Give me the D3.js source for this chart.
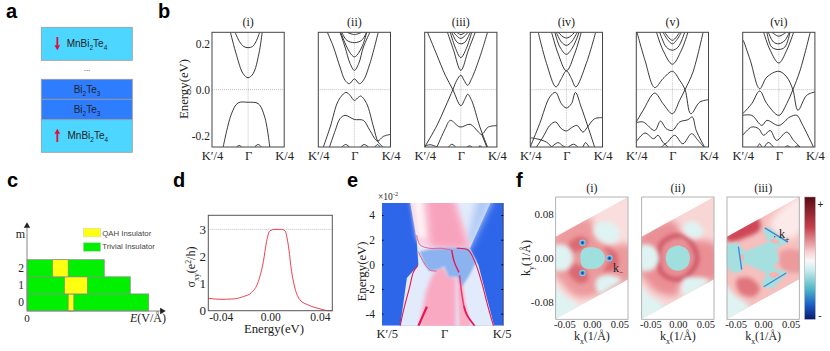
<!DOCTYPE html>
<html>
<head>
<meta charset="utf-8">
<script src="https://cdn.jsdelivr.net/npm/d3@7/dist/d3.min.js"></script>
<style>
  body { margin: 0; background: #fff; }
  svg { display: block; }
  text { font-family: "Liberation Serif", serif; fill: #222; }
  .sans { font-family: "Liberation Sans", sans-serif; }
  .letter { font-family: "Liberation Sans", sans-serif; font-weight: bold; font-size: 20px; fill: #000; }
</style>
</head>
<body>
<svg id="chart" width="830" height="351"></svg>
<script>
// panel b, one list of bands per sub panel, each point is [k, energy in eV]
const bandsI = [
  [[-.49,.25],[-.32,.15],[-.14,.07],[0,.052],[.14,.07],[.30,.157],[.39,.25]],
  [[-.36,.25],[-.24,.21],[-.12,.188],[0,.183],[.12,.188],[.22,.21],[.32,.25]],
  [[-.69,-.25],[-.46,-.105],[-.28,-.058],[0,-.055],[.28,-.061],[.46,-.119],[.6,-.25]],
  [[-.32,-.25],[-.25,-.243],[-.18,-.25]],
  [[.18,-.25],[.28,-.239],[.37,-.25]]
];
const bandsII = [
  [[-.75,.25],[-.58,.186],[-.40,.099],[-.26,.041],[-.14,.026],[0,.047],[.14,.026],[.25,.041],[.43,.114],[.66,.25]],
  [[-.40,.25],[-.26,.186],[-.12,.114],[0,.084],[.12,.114],[.25,.186],[.43,.25]],
  [[-.38,.25],[-.21,.186],[-.07,.15],[0,.143],[.07,.15],[.23,.194],[.34,.25]],
  [[-.35,.25],[-.21,.215],[0,.205],[.2,.215],[.34,.25]],
  [[-.2,.25],[0,.24],[.2,.25]],
  [[-.86,-.25],[-.67,-.163],[-.44,-.047],[-.23,-.012],[-.12,-.025],[0,-.047],[.12,-.032],[.18,-.028],[.34,-.061],[.53,-.163],[.66,-.229],[.8,-.25]],
  [[-.69,-.25],[-.53,-.178],[-.4,-.127],[-.26,-.112],[0,-.13],[.25,-.134],[.43,-.178],[.64,-.224],[.8,-.204],[1,-.195]],
  [[-.35,-.25],[-.24,-.239],[-.14,-.25]],
  [[.17,-.25],[.27,-.239],[.39,-.25]],
  [[.57,-.25],[.64,-.239],[.71,-.25]]
];
const bandsIII = [
  [[-.92,.25],[-.66,.15],[-.43,.063],[-.22,0],[0,-.07],[.12,-.039],[.19,-.02],[.3,-.047],[.53,-.163],[.74,-.25]],
  [[-1,-.25],[-.66,-.156],[-.43,-.076],[-.22,0],[-.11,.041],[0,.063],[.09,.041],[.19,.019],[.3,.048],[.53,.143],[.74,.25]],
  [[-.37,.25],[-.2,.172],[0,.084],[.21,.172],[.4,.25]],
  [[-.29,.25],[-.16,.186],[0,.14],[.17,.186],[.3,.25]],
  [[-.25,.25],[-.11,.208],[0,.2],[.12,.208],[.26,.25]],
  [[-.2,.25],[0,.223],[.2,.25]],
  [[-.11,.25],[0,.24],[.12,.25]],
  [[-1,-.246],[-.85,-.24],[-.66,-.25]],
  [[-.66,-.25],[-.43,-.17],[-.29,-.134],[-.02,-.163],[.26,-.151],[.49,-.185],[.58,-.195],[.76,-.163],[1,-.157]],
  [[-.34,-.25],[-.25,-.238],[-.14,-.25]],
  [[.17,-.25],[.24,-.245],[.31,-.25]],
  [[.49,-.25],[.53,-.245],[.58,-.25]],
  [[.58,-.195],[.72,-.25]]
];
const bandsIV = [
  [[-.78,.25],[-.55,.114],[-.29,.012],[-.14,.048],[0,.082],[.14,.048],[.26,.012],[.55,.114],[.81,.25]],
  [[-.41,.25],[-.23,.157],[0,.082],[.23,.157],[.41,.25]],
  [[-.32,.25],[-.18,.186],[0,.154],[.18,.186],[.35,.25]],
  [[-.28,.25],[-.14,.208],[0,.193],[.14,.208],[.3,.25]],
  [[-.23,.25],[-.09,.23],[0,.225],[.09,.23],[.23,.25]],
  [[-1,-.25],[-.74,-.148],[-.46,-.032],[-.3,-.012],[-.14,-.061],[0,-.08],[.14,-.061],[.25,-.012],[.41,-.076],[.6,-.163],[.78,-.25]],
  [[-.83,-.25],[-.65,-.207],[-.46,-.156],[-.3,-.141],[-.14,-.17],[0,-.18],[.14,-.166],[.29,-.156],[.46,-.185],[.57,-.166],[.78,-.127],[1,-.122]],
  [[-1,-.21],[-.83,-.214],[-.55,-.229],[-.41,-.25]],
  [[-.41,-.25],[-.23,-.231],[-.1,-.245],[-.03,-.25]],
  [[.05,-.25],[.2,-.238],[.32,-.25]],
  [[.46,-.25],[.53,-.231],[.63,-.25]]
];
const bandsV = [
  [[-.98,.25],[-.76,.128],[-.49,.009],[-.26,.048],[0,.08],[.2,.041],[.35,0],[.51,-.105],[.76,-.054],[1,-.044]],
  [[-1,-.141],[-.81,-.09],[-.49,-.015],[-.26,-.061],[0,-.105],[.2,-.047],[.35,0],[.57,.077],[.85,.25]],
  [[-.44,.25],[-.26,.172],[0,.111],[.25,.172],[.43,.25]],
  [[-.35,.25],[-.17,.186],[0,.172],[.16,.186],[.34,.25]],
  [[-.26,.25],[-.12,.215],[0,.2],[.11,.215],[.25,.25]],
  [[-.21,.25],[0,.215],[.2,.25]],
  [[-1,-.144],[-.81,-.141],[-.49,-.178],[-.33,-.137],[-.17,-.17],[0,-.178],[.2,-.141],[.43,-.131],[.55,-.119],[.66,-.178],[.89,-.25]],
  [[-1,-.227],[-.76,-.189],[-.52,-.214],[-.4,-.199],[-.21,-.236],[.06,-.199],[.29,-.236],[.53,-.192],[.71,-.221],[.87,-.25]],
  [[-.3,-.25],[-.21,-.239],[-.12,-.25]]
];
const bandsVI = [
  [[-.98,.215],[-.79,.128],[-.53,.004],[-.33,.055],[0,.08],[.22,.055],[.39,0],[.53,-.09],[.77,-.025],[1,-.01]],
  [[-1,-.105],[-.75,-.061],[-.53,-.006],[-.33,-.061],[0,-.112],[.22,-.061],[.39,0],[.59,.084],[.87,.25]],
  [[-.42,.25],[-.24,.172],[0,.116],[.22,.172],[.41,.25]],
  [[-.33,.25],[-.2,.186],[0,.175],[.17,.186],[.31,.25]],
  [[-.29,.25],[-.15,.208],[0,.2],[.17,.215],[.29,.25]],
  [[-.19,.25],[0,.233],[.2,.25]],
  [[-1,-.112],[-.75,-.112],[-.47,-.156],[-.33,-.134],[0,-.156],[.31,-.119],[.5,-.112],[.64,-.148],[.96,-.25]],
  [[-1,-.199],[-.75,-.163],[-.56,-.17],[-.42,-.199],[-.24,-.178],[-.06,-.221],[.22,-.185],[.41,-.221],[.59,-.25]],
  [[-.59,-.25],[-.53,-.236],[-.47,-.25]],
  [[-.4,-.25],[-.29,-.23],[-.15,-.25]],
  [[.18,-.25],[.24,-.245],[.31,-.25]],
  [[.45,-.25],[.52,-.245],[.59,-.25]]
];
const bandPanels = [bandsI, bandsII, bandsIII, bandsIV, bandsV, bandsVI];
const bandTitles = ['(i)', '(ii)', '(iii)', '(iv)', '(v)', '(vi)'];
const bandLeft = [212, 318.3, 424.7, 530.3, 636.3, 742.7];

// panel c, layer number, end of the row, QAH window (E in arbitrary units)
const layers = [0, 1, 2];
const rowEnd = [88.4, 75, 56.1];
const qahStart = [29.9, 27.2, 18.6];
const qahEnd = [34, 43.8, 29.9];

// panel d
const sigmaE = [-.05,-.0406,-.0298,-.0218,-.0151,-.0097,-.0056,-.003,-.0003,.0038,.0091,.0118,.0145,.0172,.0199,.0239,.0306,.04,.0468,.05];
const sigmaV = [.46,.42,.435,.52,.67,1.07,1.81,2.55,2.95,3,3,2.95,2.42,1.44,.83,.4,.21,.07,0,0];

// panel e, spectral function regions, [k, energy in 10^-2 eV]
const edgeInner = [[-.57,6],[-.43,2.1],[-.4,-.05],[-.59,-1.1],[-.7,-5],[-.74,-6],[.88,-6],[.85,-5],[.73,-2.75],[.59,-.05],[.45,1.3],[.88,6]];
const edgeUpperRight = [[.6,6],[.9,6],[.45,1.3],[.38,1.5]];
const pinkTopPale = [[-.57,6.5],[.12,6.5],[.45,1.3],[-.35,1.5],[-.43,2.1]];
const pinkTopStrong = [[-.28,6.5],[.1,6.5],[.43,1.3],[0,1.3],[-.2,1.4]];
const whiteWedge = [[-.4,2.2],[-.48,5.2],[-.34,5.2],[-.28,2.2]];
const blueBlob = [[-.38,1.05],[-.18,1.25],[.12,1.35],[.44,1.3],[.56,.25],[.44,-.9],[.32,-1.8],[.24,-1],[.1,-1],[.03,-.15],[-.1,-.45],[-.22,-.55],[-.32,.2]];
const pinkLowLeft = [[-.1,-.3],[.03,-.2],[.1,-.9],[.22,-1],[.22,-6],[-.42,-6],[-.28,-2.3],[-.2,-1.2]];
const pinkLowRight = [[.24,-1],[.33,-1.5],[.37,-3],[.48,-5.2],[.5,-6],[.28,-6]];
const lineLeft = [[-.7,-5],[-.65,-3.84],[-.55,-1.95],[-.48,-.6],[-.41,-.1]];
const lineRight = [[.23,1.3],[.42,1.16],[.53,.22],[.64,-1.4],[.74,-3.3],[.84,-5]];
const lineUpper = [[-.43,2.38],[-.37,1.57],[-.21,1.3],[-.02,1.3],[.15,1.16]];
const lineMiddle = [[.15,1.16],[.19,.22],[.27,-.65]];
const lineLowRightA = [[.28,-.9],[.31,-2.2],[.35,-3.4]];
const lineLowRightB = [[.35,-3.4],[.4,-4.1],[.53,-5]];
const lineLower = [[-.4,1.03],[-.32,.22],[-.21,-.46],[-.1,-.54]];
const lineHeavyL = [[-.4,-5],[-.32,-4.1],[-.26,-3.43]];

// panel f, Berry curvature regions, [kx, ky]
const zoneEdge = [[-.066,.039],[.0655,.1115],[.0655,-.039],[-.066,-.111]];
const corner = [[-.07,-.048],[-.07,-.115],[-.025,-.088],[-.052,-.067]];
const leftBlob = [[-.07,.022],[-.046,.022],[-.034,0],[-.046,-.021],[-.07,-.021]];

const f1Pink = [[-.07,.039],[-.004,.073],[.008,.04],[.033,.024],[.07,.024],[.07,-.039],[.012,-.067],[-.028,-.07],[-.058,-.042],[-.07,-.024]];
const f1DarkA = [[-.043,.024],[-.025,.039],[-.007,.033],[-.013,.019],[-.031,.011]];
const f1DarkB = [[-.043,-.024],[-.025,-.045],[-.007,-.04],[-.013,-.019],[-.031,-.011]];
const f1DarkC = [[.021,.021],[.045,.009],[.045,-.018],[.021,-.024],[.033,0]];
const f1Hex = [[-.015,.017],[.013,.017],[.024,0],[.013,-.017],[-.015,-.017],[-.021,0]];
const f1PaleUp = [[.005,.058],[.024,.067],[.048,.055],[.048,.033],[.027,.027],[.008,.039]];
const f1PaleDown = [[.008,-.039],[.03,-.03],[.054,-.039],[.033,-.055],[.012,-.064]];
const f1Dots = [[-.017,.028],[.032,0],[-.017,-.027]];

const f2Pink = [[-.07,.039],[-.008,.067],[.01,.036],[.04,.033],[.07,.024],[.07,-.039],[.035,-.042],[.005,-.045],[-.002,-.067],[-.038,-.061],[-.062,-.036],[-.07,-.024]];
const f2Ring = [[-.035,0],[-.029,.027],[-.002,.041],[.022,.03],[.035,0],[.022,-.027],[-.002,-.039],[-.029,-.027]];
const f2Center = [[.022,0],[.016,.016],[0,.023],[-.016,.016],[-.022,0],[-.016,-.016],[0,-.023],[.016,-.016]];
const f2PaleUp = [[.01,.058],[.028,.068],[.047,.048],[.035,.036],[.016,.042]];
const f2PaleDown = [[.01,-.039],[.035,-.035],[.056,-.039],[.028,-.064],[.01,-.067]];

const f3PaleTop = [[.012,.06],[.07,.115],[.07,.05],[.045,.035]];
const f3DarkTop = [[-.07,.037],[-.009,.072],[-.006,.052],[-.036,.036],[-.058,.03]];
const f3DarkLow = [[-.048,-.039],[-.024,-.036],[-.006,-.055],[-.018,-.07],[-.042,-.064]];
const f3Right = [[.033,.012],[.07,.012],[.07,-.024],[.042,-.024],[.03,-.012]];
const f3Center = [[-.07,.024],[-.048,.029],[-.033,.012],[.009,.029],[-.001,.055],[.012,.055],[.045,.029],[.024,.018],[.029,-.003],[.018,-.018],[.045,-.025],[.018,-.055],[-.003,-.052],[.006,-.027],[-.036,-.009],[-.039,-.024],[-.055,-.027],[-.07,-.012]];
const f3Pockets = [
  [[.012,.032],[.02,.027],[.03,.027],[.022,.035]],
  [[-.042,.001],[-.038,.008],[-.034,.001],[-.038,-.006]],
  [[.01,-.03],[.02,-.025],[.03,-.03],[.02,-.036]]
];
const f3Streaks = [
  [[.003,.055],[.045,.029]],
  [[-.045,.021],[-.039,-.021]],
  [[.001,-.052],[.042,-.027]]
];

const colorbarStops = [0, .25, .45, .52, .6, .75, .88, 1];
const colorbarColors = ['#5a0a14', '#c8404a', '#f8d0d0', '#f8f8f8', '#c8ecec', '#50b8c8', '#1a60c8', '#0a1a70'];

const svg = d3.select('#chart');
const defs = svg.append('defs');

const addBlur = function(id, amount) {
  defs.append('filter').attr('id', id)
    .attr('filterUnits', 'userSpaceOnUse')
    .attr('x', 0).attr('y', 0).attr('width', 830).attr('height', 351)
    .append('feGaussianBlur').attr('stdDeviation', amount);
};
addBlur('blur1', 1);
addBlur('blur2', 2);
addBlur('blur3', 3.5);
addBlur('blurLine', .45);

// text with sub and superscript pieces: [string, 'sub' | 'sup' | 'it' | undefined]
const richText = function(parent, x, y, parts, size, anchor, rotate) {
  const t = parent.append('text')
    .attr('font-size', size)
    .attr('text-anchor', anchor || 'start');
  if (rotate) t.attr('transform', `translate(${x},${y}) rotate(-90)`);
  else t.attr('x', x).attr('y', y);
  let shift = 0;
  parts.forEach(([s, kind]) => {
    const span = t.append('tspan').text(s);
    const target = kind === 'sub' ? size * .3 : kind === 'sup' ? -size * .35 : 0;
    span.attr('dy', target - shift);
    shift = target;
    if (kind === 'sub' || kind === 'sup') span.attr('font-size', size * .65);
    if (kind === 'it') span.attr('font-style', 'italic');
  });
  return t;
};

const cleanAxis = function(g, size) {
  g.attr('font-family', null).attr('font-size', size);
  g.select('.domain').remove();
  g.selectAll('text').attr('fill', '#222');
};

const letters = [['a', 6, 18], ['b', 158, 18], ['c', 7, 186.7], ['d', 173, 186.7], ['e', 347, 186.7], ['f', 516, 186.7]];
svg.selectAll('.letter').data(letters).join('text')
  .attr('class', 'letter')
  .attr('x', d => d[1]).attr('y', d => d[2]).text(d => d[0]);

/* panel a */
const drawStack = function() {
  const g = svg.append('g');
  const boxes = [
    [27.3, 60.3, '#4dd6ff'], [79.3, 99.3, '#2f7dff'], [99.3, 119.7, '#2f7dff'], [119.7, 152.3, '#4dd6ff']
  ];
  boxes.forEach(b => {
    g.append('rect').attr('x', 41.3).attr('y', b[0])
      .attr('width', 91).attr('height', b[1] - b[0])
      .attr('fill', b[2]).attr('stroke', '#9a9a9a').attr('stroke-width', .8);
  });
  const label = (x, y, parts, anchor) =>
    richText(g, x, y, parts, 10, anchor).attr('class', 'sans');
  label(66.7, 47, [['MnBi'], ['2', 'sub'], ['Te'], ['4', 'sub']]);
  label(67.5, 139, [['MnBi'], ['2', 'sub'], ['Te'], ['4', 'sub']]);
  label(87, 92.7, [['Bi'], ['2', 'sub'], ['Te'], ['3', 'sub']], 'middle');
  label(87, 113, [['Bi'], ['2', 'sub'], ['Te'], ['3', 'sub']], 'middle');
  g.append('text').attr('class', 'sans').attr('x', 87).attr('y', 71)
    .attr('text-anchor', 'middle').attr('font-size', 8).text('...');
  // spin arrows, [shaft start, shaft end, head rotation]
  [[37, 47, 180], [142, 132, 0]].forEach(a => {
    g.append('line').attr('x1', 57.3).attr('x2', 57.3).attr('y1', a[0]).attr('y2', a[1])
      .attr('stroke', '#e0103c').attr('stroke-width', 1.8);
    g.append('path').attr('d', d3.symbol().type(d3.symbolTriangle).size(14))
      .attr('transform', `translate(57.3,${a[1]}) rotate(${a[2]})`).attr('fill', '#e0103c');
  });
};

/* panel b */
const drawBands = function() {
  const panelWidth = 72.2, top = 32.3, bottom = 147;
  bandPanels.forEach((bands, i) => {
    const x = d3.scaleLinear().domain([-1, 1]).range([bandLeft[i], bandLeft[i] + panelWidth]);
    const y = d3.scaleLinear().domain([-.25, .25]).range([bottom, top]);
    const line = d3.line().x(d => x(d[0])).y(d => y(d[1])).curve(d3.curveCatmullRom.alpha(.5));
    const g = svg.append('g').attr('class', 'bands');
    defs.append('clipPath').attr('id', `band${i}`).append('rect')
      .attr('x', x(-1)).attr('y', top).attr('width', panelWidth).attr('height', bottom - top);
    const dots = g.append('g').attr('stroke', '#999').attr('stroke-width', .6).attr('stroke-dasharray', '1,1');
    dots.append('line').attr('x1', x(-1)).attr('x2', x(1)).attr('y1', y(0)).attr('y2', y(0));
    dots.append('line').attr('x1', x(0)).attr('x2', x(0)).attr('y1', top).attr('y2', bottom);
    g.append('g').attr('clip-path', `url(#band${i})`)
      .selectAll('path').data(bands).join('path')
      .attr('d', line).attr('fill', 'none').attr('stroke', '#222').attr('stroke-width', .9);
    g.append('rect').attr('x', x(-1)).attr('y', top).attr('width', panelWidth).attr('height', bottom - top)
      .attr('fill', 'none').attr('stroke', '#444').attr('stroke-width', 1);
    g.append('text').attr('x', x(0)).attr('y', 26).attr('text-anchor', 'middle')
      .attr('font-size', 12).text(bandTitles[i]);
    const kLabels = ['K\u2032/4', '\u0393', 'K/4'];
    g.append('g').attr('transform', `translate(0,${bottom})`)
      .call(d3.axisBottom(x).tickValues([-1, 0, 1]).tickSize(0).tickPadding(4).tickFormat((d, j) => kLabels[j]))
      .call(cleanAxis, 12.5);
    if (i === 0) {
      const yLabels = ['-0.2', '0.0', '0.2'];
      g.append('g').attr('transform', `translate(${x(-1) - 1},0)`)
        .call(d3.axisLeft(y).tickValues([-.2, 0, .2]).tickSize(0).tickPadding(1).tickFormat((d, j) => yLabels[j]))
        .call(cleanAxis, 11.5);
      richText(g, 188, 89, [['Energy(eV)']], 12.8, 'middle', true);
    }
  });
};

/* panel c */
const drawPhase = function() {
  const g = svg.append('g');
  const x = d3.scaleLinear().domain([0, 100]).range([27, 164.7]);
  const y = d3.scaleBand().domain(layers).range([311, 259.7]);
  const rows = g.append('g');
  layers.forEach((m, i) => {
    rows.append('rect').attr('x', x(0)).attr('y', y(m)).attr('width', x(rowEnd[i]) - x(0)).attr('height', y.bandwidth())
      .attr('fill', '#00f000').attr('stroke', '#8a8a8a').attr('stroke-width', .7);
    rows.append('rect').attr('x', x(qahStart[i])).attr('y', y(m)).attr('width', x(qahEnd[i]) - x(qahStart[i])).attr('height', y.bandwidth())
      .attr('fill', '#ffff10').attr('stroke', '#8a8a8a').attr('stroke-width', .7);
  });
  g.append('line').attr('x1', 27).attr('x2', 27).attr('y1', 311).attr('y2', 226)
    .attr('stroke', '#888').attr('stroke-width', 1);
  g.append('line').attr('x1', 27).attr('x2', 161).attr('y1', 311).attr('y2', 311)
    .attr('stroke', '#888').attr('stroke-width', 1);
  g.append('path').attr('d', d3.symbol().type(d3.symbolTriangle).size(18))
    .attr('transform', 'translate(27,226)').attr('fill', '#222');
  g.append('path').attr('d', d3.symbol().type(d3.symbolTriangle).size(18))
    .attr('transform', 'translate(162,311) rotate(90)').attr('fill', '#222');
  g.append('g').attr('transform', 'translate(26,0)')
    .call(d3.axisLeft(y).tickSize(0).tickPadding(2))
    .call(cleanAxis, 11.5);
  g.append('text').attr('x', 20.5).attr('y', 238).attr('text-anchor', 'middle').attr('font-size', 12).text('m');
  g.append('text').attr('x', 27).attr('y', 321.7).attr('text-anchor', 'middle').attr('font-size', 11).text('0');
  richText(g, 130, 321.7, [['E', 'it'], ['(V/\u00c5)']], 12);
  [['#ffff10', 228.3, 'QAH Insulator', 235.7], ['#00f000', 242.7, 'Trivial Insulator', 249.2]].forEach(l => {
    g.append('rect').attr('x', 83.3).attr('y', l[1]).attr('width', 17.4).attr('height', 8.6)
      .attr('fill', l[0]).attr('stroke', '#cfcfcf').attr('stroke-width', .5);
    g.append('text').attr('class', 'sans').attr('x', 102.3).attr('y', l[3])
      .attr('font-size', 7.8).style('fill', '#444').text(l[2]);
  });
};

/* panel d */
const drawSigma = function() {
  const g = svg.append('g');
  const x = d3.scaleLinear().domain([-.05, .05]).range([208.3, 332.3]);
  const y = d3.scaleLinear().domain([0, 3.52]).range([310.7, 215.3]);
  const curve = d3.line().x(d => x(d[0])).y(d => y(d[1])).curve(d3.curveMonotoneX);
  g.append('line').attr('x1', x(-.05)).attr('x2', x(.05)).attr('y1', y(3)).attr('y2', y(3))
    .attr('stroke', '#999').attr('stroke-width', .6).attr('stroke-dasharray', '1,1');
  g.append('path').datum(d3.zip(sigmaE, sigmaV)).attr('d', curve)
    .attr('fill', 'none').attr('stroke', '#ef3f50').attr('stroke-width', 1);
  g.append('rect').attr('x', 208.3).attr('y', 215.3).attr('width', 124).attr('height', 95.4)
    .attr('fill', 'none').attr('stroke', '#555').attr('stroke-width', 1);
  const xLabels = ['-0.04', '0.00', '0.04'];
  g.append('g').attr('transform', 'translate(0,310.7)')
    .call(d3.axisBottom(x).tickValues([-.04, 0, .04]).tickSize(0).tickPadding(2).tickFormat((d, j) => xLabels[j]))
    .call(cleanAxis, 11.5);
  g.append('g').attr('transform', 'translate(208,0)')
    .call(d3.axisLeft(y).tickValues([0, 1, 2, 3]).tickSize(0).tickPadding(2).tickFormat(d3.format('d')))
    .call(cleanAxis, 13);
  richText(g, 274, 333.3, [['Energy(eV)']], 12.8, 'middle');
  richText(g, 195, 267, [['\u03c3'], ['xy', 'sub'], ['(e'], ['2', 'sup'], ['/h)']], 12, 'middle', true);
};

/* panel e */
const drawSpectrum = function() {
  const g = svg.append('g');
  const left = 382, right = 503.3, top = 203, bottom = 325.7;
  const x = d3.scaleLinear().domain([-1, 1]).range([left, right]);
  const y = d3.scaleLinear().domain([-5, 5]).range([326, 202.7]);
  const poly = d3.line().x(d => x(d[0])).y(d => y(d[1])).curve(d3.curveLinearClosed);
  const open = d3.line().x(d => x(d[0])).y(d => y(d[1])).curve(d3.curveCatmullRom.alpha(.5));
  defs.append('clipPath').attr('id', 'specClip').append('rect')
    .attr('x', left).attr('y', top).attr('width', right - left).attr('height', bottom - top);
  const plot = g.append('g').attr('clip-path', 'url(#specClip)');
  plot.append('rect').attr('x', left).attr('y', top).attr('width', right - left).attr('height', bottom - top).attr('fill', '#2e66ea');
  const area = (pts, color, blur) => plot.append('path').attr('d', poly(pts)).attr('fill', color)
    .attr('filter', blur ? `url(#${blur})` : null);
  area(edgeInner, '#e2ebfc', 'blurLine');
  area(edgeUpperRight, '#b0caf5', 'blur3');
  area(pinkTopPale, '#fbd3e0', 'blur2');
  area(pinkTopStrong, '#f8a3be', 'blur3');
  area(whiteWedge, '#fff2f6', 'blur2');
  area(pinkLowLeft, '#f9a9c2', 'blur2');
  area(pinkLowRight, '#fbb0c8', 'blur1');
  area(blueBlob, '#8cb3f0', 'blur1');
  const stroke = (pts, w, color) => plot.append('path').attr('d', open(pts)).attr('fill', 'none')
    .attr('stroke', color || '#e8144e').attr('stroke-width', w).attr('filter', 'url(#blurLine)');
  [lineLeft, lineRight].forEach(l => stroke(l, 1.1));
  [lineUpper, lineLower].forEach(l => stroke(l, .9, '#f0507c'));
  stroke(lineMiddle, 1.4);
  stroke(lineLowRightA, 1.5, '#ee3a6a');
  stroke(lineLowRightB, 1.8);
  stroke(lineHeavyL, 2.2);
  g.append('g').attr('transform', `translate(${left},0)`)
    .call(d3.axisRight(y).tickValues([-4, -2, 0, 2, 4]).tickSize(1.5).tickFormat(() => ''))
    .call(cleanAxis, 1);
  g.append('g').attr('transform', `translate(${right},0)`)
    .call(d3.axisLeft(y).tickValues([-4, -2, 0, 2, 4]).tickSize(2).tickFormat(() => ''))
    .call(cleanAxis, 1);
  g.append('line').attr('x1', right).attr('x2', right).attr('y1', top).attr('y2', bottom).attr('stroke', '#223').attr('stroke-width', .7);
  const eLabels = ['-4', '-2', '0', '2', '4'];
  g.append('g').attr('transform', `translate(${left - 4},0)`)
    .call(d3.axisLeft(y).tickValues([-4, -2, 0, 2, 4]).tickSize(0).tickPadding(3).tickFormat((d, j) => eLabels[j]))
    .call(cleanAxis, 11.5);
  const kLabels = ['K\u2032/5', '\u0393', 'K/5'];
  const kx = d3.scalePoint().domain(kLabels).range([386.7, 501.7]).padding(0);
  g.append('g').attr('transform', `translate(0,${bottom})`)
    .call(d3.axisBottom(kx).tickSize(0).tickPadding(3))
    .call(cleanAxis, 12.5);
  richText(g, 378, 199.5, [['\u00d710'], ['-2', 'sup']], 9.5);
  richText(g, 365.5, 271.5, [['Energy(eV)']], 12.8, 'middle', true);
};

/* panel f */
const drawCurvature = function() {
  const lefts = [555.7, 641.7, 727];
  const titles = ['(i)', '(ii)', '(iii)'];
  const w = 72.3, top = 197, bottom = 319.3;
  const xTickLabels = ['-0.05', '0.00', '0.05'];
  lefts.forEach((l, i) => {
    const g = svg.append('g');
    const x = d3.scaleLinear().domain([-.0657, .0657]).range([l, l + w]);
    const y = d3.scaleLinear().domain([-.1112, .1112]).range([bottom, top]);
    const shape = d3.line().x(d => x(d[0])).y(d => y(d[1])).curve(d3.curveCatmullRomClosed.alpha(.5));
    const sharp = d3.line().x(d => x(d[0])).y(d => y(d[1])).curve(d3.curveLinearClosed);
    defs.append('clipPath').attr('id', `zone${i}`).append('path').attr('d', sharp(zoneEdge));
    const plot = g.append('g').attr('clip-path', `url(#zone${i})`);
    const blob = (pts, color, blur) => plot.append('path').attr('d', shape(pts)).attr('fill', color)
      .attr('filter', `url(#${blur || 'blur2'})`);
    const baseColor = ['#f9dedd', '#f8d6d5', '#f5c0be'][i];
    plot.append('path').attr('d', sharp(zoneEdge)).attr('fill', baseColor);
    if (i === 0) {
      blob(f1Pink, '#ec9a9c', 'blur3');
      [f1DarkA, f1DarkB, f1DarkC].forEach(p => blob(p, '#da6a74'));
      blob(leftBlob, '#dff3f2');
      blob(f1PaleUp, '#dff3f2');
      blob(f1PaleDown, '#dff3f2');
      blob(f1Hex, '#9fdfdd', 'blurLine');
      blob(corner, '#dff3f2');
      plot.selectAll('.glow').data(f1Dots).join('circle').attr('class', 'glow')
        .attr('cx', d => x(d[0])).attr('cy', d => y(d[1])).attr('r', 3.2).attr('fill', '#7fd0e0').attr('filter', 'url(#blurLine)');
      plot.selectAll('.halo').data(f1Dots).join('circle').attr('class', 'halo')
        .attr('cx', d => x(d[0])).attr('cy', d => y(d[1])).attr('r', 2).attr('fill', '#2f78d8').attr('filter', 'url(#blurLine)');
      plot.selectAll('.core').data(f1Dots).join('circle').attr('class', 'core')
        .attr('cx', d => x(d[0])).attr('cy', d => y(d[1])).attr('r', .8).attr('fill', '#0a2f90');
    } else if (i === 1) {
      blob(f2Pink, '#ea8f94', 'blur3');
      plot.append('path').attr('d', shape(f2Ring)).attr('fill', 'none')
        .attr('stroke', '#c85060').attr('stroke-width', 4).attr('filter', 'url(#blur2)');
      blob(leftBlob, '#dff3f2');
      blob(f2PaleUp, '#dff3f2');
      blob(f2PaleDown, '#dff3f2');
      blob(f2Center, '#9fdfdd', 'blurLine');
      blob(corner, '#dff3f2');
    } else {
      blob(f3PaleTop, '#fceaea', 'blur3');
      blob(f3DarkTop, '#cf4656', 'blur2');
      blob(f3DarkLow, '#e0767e');
      blob(f3Right, '#ec9a9c');
      plot.append('path').attr('d', sharp(f3Center)).attr('fill', '#a6dfdf').attr('filter', 'url(#blur1)');
      f3Pockets.forEach(p => blob(p, '#f4b4b4', 'blurLine'));
      plot.selectAll('.streak').data(f3Streaks).join('path').attr('class', 'streak')
        .attr('d', d3.line().x(d => x(d[0])).y(d => y(d[1])))
        .attr('stroke', '#3c8cd6').attr('stroke-width', 1.4).attr('fill', 'none').attr('filter', 'url(#blurLine)');
      blob(corner, '#dff3f2');
      plot.append('circle').attr('cx', x(.021)).attr('cy', y(.039)).attr('r', .7).attr('fill', '#d01020');
    }
    g.append('rect').attr('x', l).attr('y', top).attr('width', w).attr('height', bottom - top)
      .attr('fill', 'none').attr('stroke', '#a0a0a0').attr('stroke-width', .8);
    g.append('text').attr('x', x(0)).attr('y', 192.3).attr('text-anchor', 'middle').attr('font-size', 12).text(titles[i]);
    g.append('g').attr('transform', `translate(0,${bottom})`)
      .call(d3.axisBottom(x).tickValues([-.05, 0, .05]).tickSize(0).tickPadding(1).tickFormat((d, j) => xTickLabels[j]))
      .call(cleanAxis, 10.5);
    richText(g, x(0), 340, [['k'], ['x', 'sub'], ['(1/\u00c5)']], 12, 'middle');
    if (i === 0) {
      const yTickLabels = ['-0.08', '0.00', '0.08'];
      g.append('g').attr('transform', `translate(${l - 1},0)`)
        .call(d3.axisLeft(y).tickValues([-.08, 0, .08]).tickSize(0).tickPadding(1).tickFormat((d, j) => yTickLabels[j]))
        .call(cleanAxis, 11);
      richText(g, 530, 258, [['k'], ['y', 'sub'], ['(1/\u00c5)']], 12, 'middle', true);
      richText(g, 613, 271.7, [['k'], ['\u2212', 'sub']], 12);
    }
    if (i === 2) richText(g, 779, 238.3, [['k'], ['+', 'sub']], 12);
  });

  // colour bar
  const scale = d3.scaleLinear().domain(colorbarStops).range(colorbarColors).interpolate(d3.interpolateRgb);
  const grad = defs.append('linearGradient').attr('id', 'barGrad').attr('x1', 0).attr('x2', 0).attr('y1', 0).attr('y2', 1);
  colorbarStops.forEach(s => grad.append('stop').attr('offset', s).attr('stop-color', scale(s)));
  svg.append('rect').attr('x', 804.7).attr('y', 197).attr('width', 10.6).attr('height', 122.3)
    .attr('fill', 'url(#barGrad)').attr('stroke', '#999').attr('stroke-width', .5);
  svg.append('text').attr('class', 'sans').attr('x', 820.5).attr('y', 208).attr('text-anchor', 'middle').attr('font-size', 10).text('+');
  svg.append('text').attr('class', 'sans').attr('x', 820).attr('y', 319).attr('text-anchor', 'middle').attr('font-size', 10).text('-');
};

const main = function() {
  drawStack();
  drawBands();
  drawPhase();
  drawSigma();
  drawSpectrum();
  drawCurvature();
};

main();
</script>
</body>
</html>
